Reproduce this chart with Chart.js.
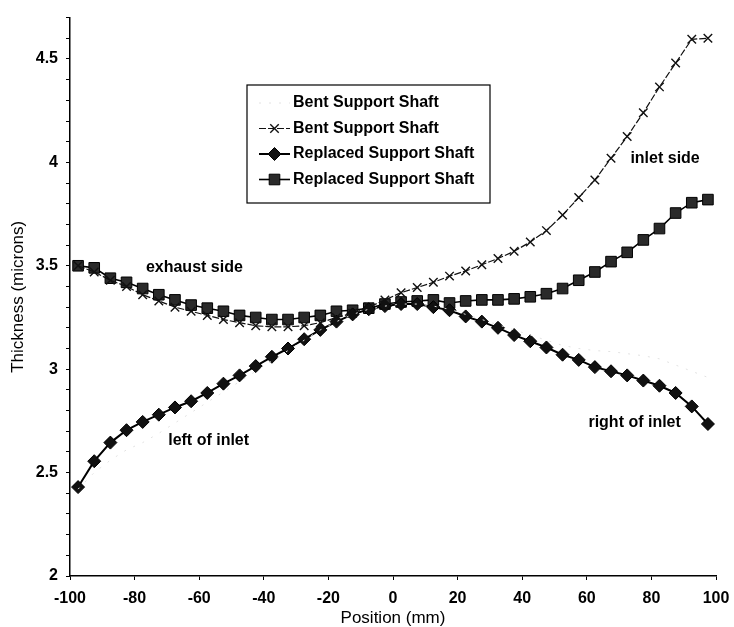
<!DOCTYPE html>
<html lang="en">
<head>
<meta charset="UTF-8" />
<title>Thickness vs Position</title>
<script src="https://cdn.jsdelivr.net/npm/chart.js"></script>
<style>
  html, body { margin: 0; padding: 0; background: #fff; }
  #wrap { width: 734px; height: 627px; }
</style>
</head>
<body>
<div id="wrap"><canvas id="chart" width="734" height="627"></canvas></div>
<script>
// positions along the shaft (mm)
const positions = [-97.5, -92.5, -87.5, -82.5, -77.5, -72.5, -67.5, -62.5, -57.5, -52.5,
  -47.5, -42.5, -37.5, -32.5, -27.5, -22.5, -17.5, -12.5, -7.5, -2.5,
  2.5, 7.5, 12.5, 17.5, 22.5, 27.5, 32.5, 37.5, 42.5, 47.5,
  52.5, 57.5, 62.5, 67.5, 72.5, 77.5, 82.5, 87.5, 92.5, 97.5];

// bent shaft, left/right of inlet (faint trace in the original)
const bentFaint = [2.42, 2.50, 2.56, 2.61, 2.645, 2.69, 2.74, 2.79, 2.84, 2.89,
  2.94, 2.99, 3.04, 3.09, 3.14, 3.19, 3.23, 3.265, 3.29, 3.305,
  3.315, 3.315, 3.305, 3.29, 3.265, 3.24, 3.215, 3.19, 3.165, 3.14,
  3.115, 3.10, 3.09, 3.085, 3.075, 3.065, 3.05, 3.02, 2.99, 2.96];

// bent shaft, exhaust / inlet side (x markers)
const bentCross = [3.50, 3.47, 3.43, 3.40, 3.36, 3.33, 3.30, 3.28, 3.26, 3.24,
  3.225, 3.21, 3.205, 3.205, 3.21, 3.225, 3.25, 3.27, 3.30, 3.335,
  3.37, 3.395, 3.42, 3.45, 3.475, 3.505, 3.535, 3.57, 3.615, 3.67,
  3.745, 3.83, 3.915, 4.02, 4.125, 4.24, 4.365, 4.48, 4.595, 4.60];

// replaced shaft, left/right of inlet (diamonds)
const replacedDiamond = [2.43, 2.555, 2.645, 2.705, 2.745, 2.78, 2.815, 2.845, 2.885, 2.93,
  2.97, 3.015, 3.06, 3.10, 3.145, 3.19, 3.23, 3.265, 3.29, 3.305,
  3.315, 3.315, 3.30, 3.285, 3.255, 3.23, 3.20, 3.165, 3.135, 3.105,
  3.07, 3.045, 3.01, 2.99, 2.97, 2.945, 2.92, 2.885, 2.82, 2.735];

// replaced shaft, exhaust / inlet side (squares)
const replacedSquare = [3.50, 3.49, 3.44, 3.42, 3.39, 3.36, 3.335, 3.31, 3.295, 3.28,
  3.26, 3.25, 3.24, 3.24, 3.25, 3.26, 3.28, 3.285, 3.295, 3.315,
  3.325, 3.33, 3.335, 3.32, 3.33, 3.335, 3.335, 3.34, 3.35, 3.365,
  3.39, 3.43, 3.47, 3.52, 3.565, 3.625, 3.68, 3.755, 3.805, 3.82];

const seriesNames = ['Bent Support Shaft', 'Bent Support Shaft', 'Replaced Support Shaft', 'Replaced Support Shaft'];

// text labels placed in data coordinates
const notes = [
  { text: 'exhaust side', x: -76.5, y: 3.47 },
  { text: 'inlet side', x: 73.5, y: 3.996 },
  { text: 'left of inlet', x: -69.6, y: 2.634 },
  { text: 'right of inlet', x: 60.5, y: 2.722 }
];

const FONT = '"Liberation Sans", Arial, Helvetica, sans-serif';

function toPoints(values) {
  return positions.map((p, i) => ({ x: p, y: values[i] }));
}

// legend box drawn inside the plot, like the original
const boxLegend = {
  id: 'boxLegend',
  afterDraw(chart, args, opts) {
    const ctx = chart.ctx;
    ctx.save();
    ctx.fillStyle = '#fff';
    ctx.fillRect(opts.left, opts.top, opts.width, opts.height);
    ctx.strokeStyle = '#000';
    ctx.lineWidth = 1.2;
    ctx.strokeRect(opts.left, opts.top, opts.width, opts.height);
    ctx.font = 'bold 16px ' + FONT;
    ctx.textBaseline = 'middle';
    ctx.textAlign = 'left';
    chart.data.datasets.forEach((ds, i) => {
      const y = opts.top + opts.firstRow + i * opts.rowGap;
      const x0 = opts.left + opts.sampleLeft;
      const x1 = x0 + opts.sampleWidth;
      ctx.save();
      ctx.strokeStyle = ds.borderColor;
      ctx.lineWidth = ds.borderWidth;
      ctx.setLineDash(ds.borderDash || []);
      ctx.beginPath();
      ctx.moveTo(x0, y);
      ctx.lineTo(x1, y);
      ctx.stroke();
      ctx.setLineDash([]);
      if (ds.pointRadius > 0) {
        ctx.fillStyle = ds.pointBackgroundColor;
        ctx.strokeStyle = ds.pointBorderColor;
        ctx.lineWidth = ds.pointBorderWidth;
        Chart.helpers.drawPoint(ctx, {
          pointStyle: ds.pointStyle,
          radius: ds.pointRadius,
          rotation: 0,
          borderWidth: ds.pointBorderWidth
        }, (x0 + x1) / 2, y);
      }
      ctx.restore();
      ctx.fillStyle = '#000';
      ctx.fillText(ds.label, opts.left + opts.textLeft, y);
    });
    ctx.restore();
  }
};

// free text notes positioned through the scales
const noteText = {
  id: 'noteText',
  afterDatasetsDraw(chart) {
    const { ctx, scales } = chart;
    ctx.save();
    ctx.font = 'bold 16px ' + FONT;
    ctx.fillStyle = '#000';
    ctx.textAlign = 'left';
    ctx.textBaseline = 'alphabetic';
    notes.forEach(n => {
      ctx.fillText(n.text, scales.x.getPixelForValue(n.x), scales.y.getPixelForValue(n.y));
    });
    ctx.restore();
  }
};

const ctx = document.getElementById('chart').getContext('2d');
new Chart(ctx, {
  type: 'line',
  data: {
    datasets: [
      {
        label: seriesNames[0],
        data: toPoints(bentFaint),
        borderColor: '#e2e2e2',
        borderWidth: 1,
        borderDash: [2, 8],
        pointRadius: 0,
        tension: 0
      },
      {
        label: seriesNames[1],
        data: toPoints(bentCross),
        borderColor: '#111',
        borderWidth: 1.2,
        borderDash: [7, 2],
        pointStyle: 'crossRot',
        pointRadius: 6,
        pointBorderWidth: 1.4,
        pointBackgroundColor: '#111',
        pointBorderColor: '#111',
        tension: 0
      },
      {
        label: seriesNames[2],
        data: toPoints(replacedDiamond),
        borderColor: '#000',
        borderWidth: 2,
        pointStyle: 'rectRot',
        pointRadius: 6.5,
        pointBorderWidth: 1,
        pointBackgroundColor: '#111',
        pointBorderColor: '#000',
        tension: 0
      },
      {
        label: seriesNames[3],
        data: toPoints(replacedSquare),
        borderColor: '#000',
        borderWidth: 1.6,
        pointStyle: 'rect',
        pointRadius: 7.5,
        pointBorderWidth: 1,
        pointBackgroundColor: '#2a2a2a',
        pointBorderColor: '#000',
        tension: 0
      }
    ]
  },
  options: {
    responsive: false,
    animation: false,
    layout: { padding: { top: 16, right: 18, left: 0, bottom: 0 } },
    plugins: {
      legend: { display: false },
      tooltip: { enabled: false },
      boxLegend: {
        left: 247, top: 85, width: 243, height: 118,
        firstRow: 18, rowGap: 25.5,
        sampleLeft: 12, sampleWidth: 31, textLeft: 46
      }
    },
    scales: {
      x: {
        type: 'linear',
        min: -100,
        max: 100,
        afterFit: s => { s.height = 51; s.paddingLeft = 0; s.paddingRight = 0; },
        ticks: {
          stepSize: 20,
          color: '#000',
          padding: 9,
          maxRotation: 0,
          font: { family: FONT, size: 16, weight: 'bold' }
        },
        grid: { drawOnChartArea: false, drawTicks: true, tickLength: 4, color: '#000' },
        border: { display: true, color: '#000', width: 1.5 },
        title: {
          display: true,
          text: 'Position (mm)',
          color: '#000',
          padding: { top: 0, bottom: 0 },
          font: { family: FONT, size: 17, lineHeight: 1 }
        }
      },
      y: {
        min: 2,
        max: 4.7,
        afterFit: s => { s.width = 70; },
        ticks: {
          stepSize: 0.1,
          autoSkip: false,
          color: '#000',
          padding: 8,
          font: { family: FONT, size: 16, weight: 'bold' },
          callback: v => {
            const r = Math.round(v * 10) / 10;
            return Math.abs(r * 2 - Math.round(r * 2)) < 1e-6 ? String(r) : '';
          }
        },
        grid: { drawOnChartArea: false, drawTicks: true, tickLength: 4, color: '#000' },
        border: { display: true, color: '#000', width: 1.5 },
        title: {
          display: true,
          text: 'Thickness (microns)',
          color: '#000',
          padding: { top: 8, bottom: 0 },
          font: { family: FONT, size: 17 }
        }
      }
    }
  },
  plugins: [boxLegend, noteText]
});
</script>
</body>
</html>
